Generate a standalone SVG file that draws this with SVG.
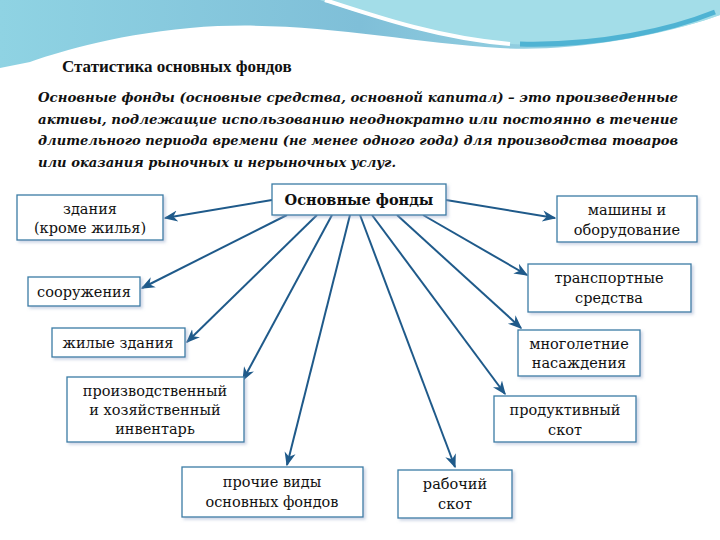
<svg xmlns="http://www.w3.org/2000/svg" width="720" height="540" viewBox="0 0 720 540">
<defs>
<linearGradient id="g1" x1="0" y1="0" x2="1" y2="0"><stop offset="0" stop-color="#8fd3e3"/><stop offset="0.5" stop-color="#7fbfd8"/><stop offset="1" stop-color="#a9e0ea"/></linearGradient>
<marker id="ar" viewBox="0 0 10 10" refX="9" refY="5" markerWidth="7" markerHeight="7" orient="auto"><path d="M0,1 L10,5 L0,9 L3,5 z" fill="#1f5a8a"/></marker>
<filter id="sh" x="-10%" y="-10%" width="130%" height="140%"><feDropShadow dx="2" dy="2" stdDeviation="1.5" flood-color="#9ac" flood-opacity="0.5"/></filter>
</defs>
<style>
.b{fill:#fff;stroke:#3a7ca5;stroke-width:1.3;filter:url(#sh)}
.t{font-family:'DejaVu Serif','Liberation Serif',serif;font-size:14.5px;fill:#111;text-anchor:middle}
.c line{stroke:#1f5a8a;stroke-width:2;marker-end:url(#ar)}
.p{font-family:'DejaVu Serif','Liberation Serif',serif;font-style:italic;font-weight:bold;font-size:13px;fill:#111}
.h{font-family:'Liberation Serif','DejaVu Serif',serif;font-size:17px;font-weight:bold;fill:#111}
</style>
<rect width="720" height="540" fill="#fff"/>
<path d="M0,0 H720 V15 C650,40 560,52 500,48 C400,42 300,18 190,28 C110,35 50,55 30,62 L0,68 Z" fill="url(#g1)"/>
<path d="M320,0 C380,20 450,40 510,44 C600,48 680,30 720,15 V0 Z" fill="#a3dde8"/>
<path d="M325,0 C380,18 440,38 510,44" fill="none" stroke="#fff" stroke-width="4"/>
<path d="M520,44 C600,46 670,30 715,12" fill="none" stroke="#4fb3d3" stroke-width="5"/>
<text class="h" x="62" y="72">Статистика основных фондов</text>
<text class="p" x="38" y="102" textLength="640" lengthAdjust="spacingAndGlyphs">Основные фонды (основные средства, основной капитал) – это произведенные</text>
<text class="p" x="38" y="124" textLength="640" lengthAdjust="spacingAndGlyphs">активы, подлежащие использованию неоднократно или постоянно в течение</text>
<text class="p" x="38" y="145" textLength="640" lengthAdjust="spacingAndGlyphs">длительного периода времени (не менее одного года) для производства товаров</text>
<text class="p" x="38" y="167" textLength="358" lengthAdjust="spacingAndGlyphs">или оказания рыночных и нерыночных услуг.</text>
<g class="c">
<line x1="272" y1="200" x2="165" y2="218"/>
<line x1="446" y1="200" x2="555" y2="218"/>
<line x1="287" y1="215" x2="142" y2="288"/>
<line x1="317" y1="215" x2="187" y2="342"/>
<line x1="332" y1="215" x2="243" y2="380"/>
<line x1="350" y1="215" x2="287" y2="465"/>
<line x1="360" y1="215" x2="455" y2="467"/>
<line x1="372" y1="215" x2="505" y2="394"/>
<line x1="397" y1="215" x2="521" y2="328"/>
<line x1="423" y1="215" x2="527" y2="275"/>
</g>
<g id="n0"><rect class="b" x="272" y="184" width="174" height="31"/><text class="t" x="359" y="205" font-weight="bold" font-size="15">Основные фонды</text></g>
<g id="n1"><rect class="b" x="17" y="195" width="146" height="45"/><text class="t" x="90" y="214">здания</text><text class="t" x="90" y="233">(кроме жилья)</text></g>
<g id="n2"><rect class="b" x="557" y="196" width="140" height="46"/><text class="t" x="627" y="215">машины и</text><text class="t" x="627" y="235">оборудование</text></g>
<g id="n3"><rect class="b" x="28" y="277" width="112" height="29"/><text class="t" x="84" y="297">сооружения</text></g>
<g id="n4"><rect class="b" x="528" y="264" width="163" height="48"/><text class="t" x="609" y="283">транспортные</text><text class="t" x="609" y="303">средства</text></g>
<g id="n5"><rect class="b" x="52" y="328" width="133" height="29"/><text class="t" x="118" y="348">жилые здания</text></g>
<g id="n6"><rect class="b" x="518" y="330" width="122" height="46"/><text class="t" x="579" y="349">многолетние</text><text class="t" x="579" y="368">насаждения</text></g>
<g id="n7"><rect class="b" x="67" y="377" width="177" height="65"/><text class="t" x="155" y="396">производственный</text><text class="t" x="155" y="415">и хозяйственный</text><text class="t" x="155" y="434">инвентарь</text></g>
<g id="n8"><rect class="b" x="494" y="396" width="142" height="46"/><text class="t" x="565" y="415">продуктивный</text><text class="t" x="565" y="435">скот</text></g>
<g id="n9"><rect class="b" x="182" y="467" width="181" height="50"/><text class="t" x="272" y="487">прочие виды</text><text class="t" x="272" y="507">основных фондов</text></g>
<g id="n10"><rect class="b" x="398" y="470" width="114" height="48"/><text class="t" x="455" y="489">рабочий</text><text class="t" x="455" y="509">скот</text></g>
</svg>
